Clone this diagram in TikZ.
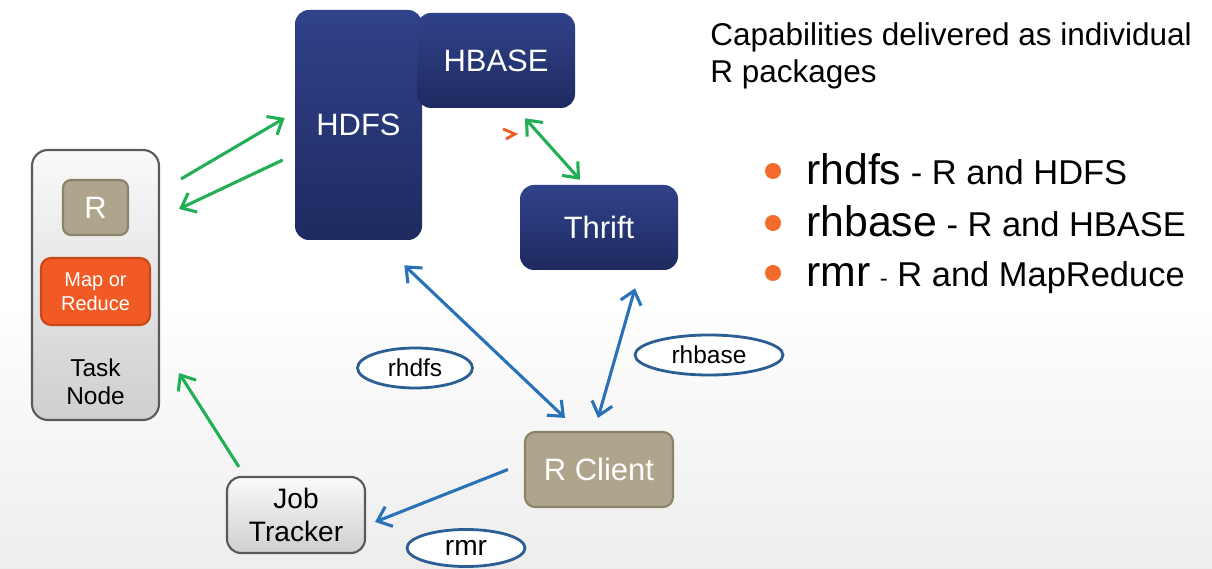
\documentclass[tikz,border=0pt]{standalone}
\usepackage{fontspec}
\setmainfont{Liberation Sans}
\usetikzlibrary{%
  arrows.meta,%
  shapes.geometric,% wg. ellipse
  positioning%
}
\definecolor{navytop}{HTML}{30428A}
\definecolor{navybot}{HTML}{1E2A60}
\definecolor{tanfill}{HTML}{AFA58C}
\definecolor{tanedge}{HTML}{8C826A}
\definecolor{mapfill}{HTML}{F15A24}
\definecolor{mapedge}{HTML}{C9481A}
\definecolor{edgegray}{HTML}{5A5A5A}
\definecolor{ovaledge}{HTML}{2B5F93}
\definecolor{arrgreen}{HTML}{22AE55}
\definecolor{arrblue}{HTML}{2A72B8}
\definecolor{dotorange}{HTML}{F26B2A}
\newdimen\pxu \pxu=0.025cm

\begin{document}
\begin{tikzpicture}[
  x=0.025cm, y=-0.025cm,
  >={Straight Barb[length=9pt,width=15pt]},
  navybox/.style={rectangle, rounded corners=14\pxu, top color=navytop, bottom color=navybot, draw=none, text=white, font=\fontsize{22}{26}\selectfont},
  tanbox/.style={rectangle, rounded corners=10\pxu, fill=tanfill, draw=tanedge, line width=1.5pt, text=white},
  graybox/.style={rectangle, rounded corners=16\pxu, top color=gray!4, bottom color=gray!38, draw=edgegray, line width=1.5pt, align=center},
  pkgoval/.style={ellipse, draw=ovaledge, fill=white, line width=2pt, inner sep=0pt, font=\fontsize{17.4}{20}\selectfont},
  greenline/.style={draw=arrgreen, line width=2.2pt},
  blueline/.style={draw=arrblue, line width=2.2pt},
  bulletdot/.style={circle, fill=dotorange, minimum size=16\pxu, inner sep=0pt}
]

% background
\fill[white] (0,0) rectangle (1212,569);
\shade[top color=white, bottom color=gray!14] (0,300) rectangle (1212,569);

% task node
\node[graybox, minimum width=127\pxu, minimum height=270\pxu,
  label={[name=tasklbl, anchor=south, inner sep=0pt, yshift=16\pxu, align=center, font=\fontsize{17.4}{20}\selectfont]south:Task\\Node}]
  (tasknode) at (95.5,285) {};
\node[tanbox, minimum width=65\pxu, minimum height=55\pxu, rounded corners=8\pxu, font=\fontsize{22}{26}\selectfont] (rbox) at (95.5,207.5) {R};
\node[tanbox, fill=mapfill, draw=mapedge, minimum width=109\pxu, minimum height=67\pxu, align=center, font=\fontsize{14.2}{17}\selectfont] (mapred) at (95.5,291.5) {Map or\\Reduce};

% storage
\node[navybox, minimum width=127\pxu, minimum height=230\pxu] (hdfs) at (358.5,125) {HDFS};
\node[navybox, minimum width=158\pxu, minimum height=95\pxu] (hbase) at (496,60.5) {HBASE};
\node[navybox, minimum width=158\pxu, minimum height=85\pxu] (thrift) at (599,227.5) {Thrift};

% client side
\node[tanbox, minimum width=148\pxu, minimum height=75\pxu, font=\fontsize{22}{26}\selectfont] (rclient) at (599,469.5) {R Client};
\node[graybox, minimum width=138\pxu, minimum height=76\pxu, rounded corners=14\pxu, font=\fontsize{20}{23.5}\selectfont] (jobtrk) at (296,515) {Job\\Tracker};

% package ovals
\node[pkgoval, minimum width=115\pxu, minimum height=40\pxu] (ovhdfs) at (415,368) {rhdfs};
\node[pkgoval, minimum width=148\pxu, minimum height=40\pxu] (ovhbase) at (709,355) {rhbase};
\node[pkgoval, minimum width=118\pxu, minimum height=37\pxu, font=\fontsize{20}{23}\selectfont] (ovrmr) at (466,548) {rmr};

% green arrows
\draw[greenline, ->] ([shift={(21,30)}]tasknode.north east) -- ([shift={(-10,-7)}]hdfs.west);
\draw[greenline, ->] ([shift={(-12,35)}]hdfs.west) -- ([shift={(19,60)}]tasknode.north east);
\draw[greenline, ->] ([shift={(13,-9)}]jobtrk.north west) -- ([shift={(19,-48)}]tasknode.south east);
\draw[greenline, <->] ([shift={(29,10)}]hbase.south) -- ([shift={(-19,-5)}]thrift.north);
\draw[draw=mapfill, line width=2pt] (503,129) -- (515,134) -- (506,139);

% blue arrows
\draw[blueline, <->] ([shift={(-18,25)}]hdfs.south east) -- ([shift={(-34,-13)}]rclient.north);
\draw[blueline, <->] ([shift={(36,18)}]thrift.south) -- ([shift={(-1,-13)}]rclient.north);
\draw[blueline, ->] ([shift={(-16,0)}]rclient.west) -- ([shift={(9,7)}]jobtrk.east);

% capabilities text
\node[anchor=north west, inner sep=0pt, align=left, font=\fontsize{22.4}{26.3}\selectfont] (capab) at (710,22)
  {Capabilities delivered as individual\\R packages};
\foreach \i/\yb/\pkg/\desc in {1/185/rhdfs/{- R and HDFS},
                               2/237/rhbase/{- R and HBASE},
                               3/287/rmr/{{\fontsize{17}{20}\selectfont -} R and MapReduce}} {
  \node[bulletdot] (dot\i) at (773,\yb-14) {};
  \node[anchor=base west, inner sep=0pt] (pkg\i) at (806,\yb)
    {{\fontsize{30.4}{36}\selectfont\pkg}{\fontsize{24.5}{29}\selectfont\ \desc}};
}

\end{tikzpicture}
\end{document}
